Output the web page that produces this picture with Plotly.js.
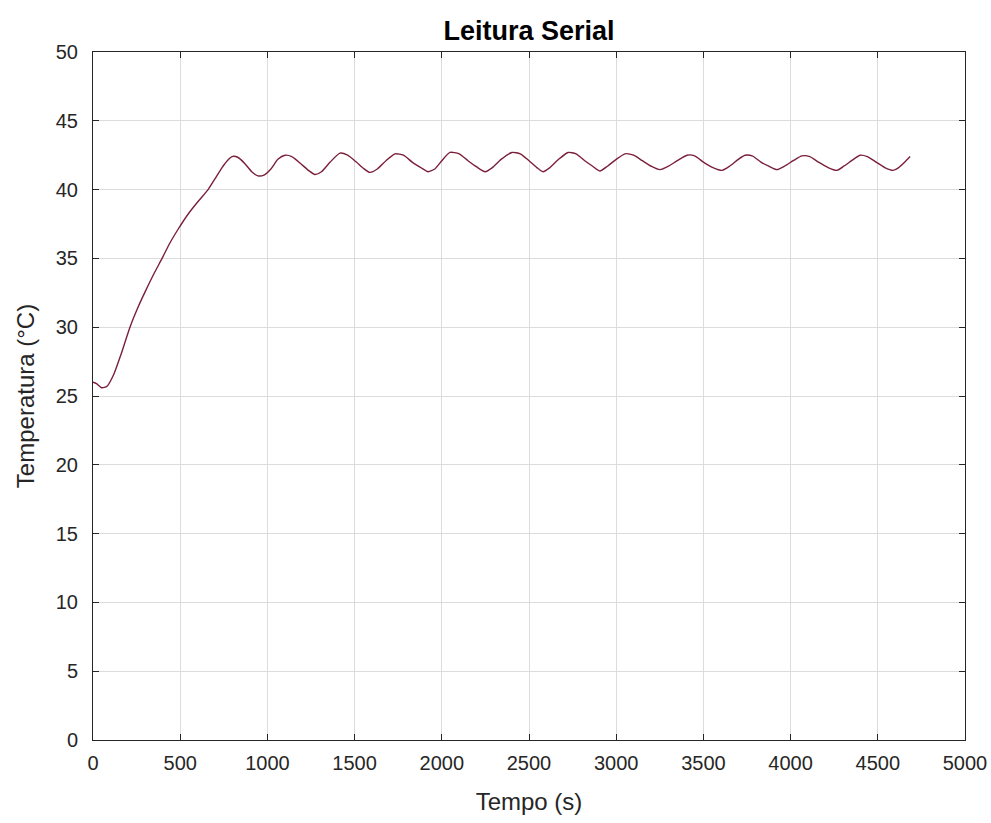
<!DOCTYPE html>
<html>
<head>
<meta charset="utf-8">
<script src="https://cdn.plot.ly/plotly-3.0.1.min.js"></script>
<style>html,body{margin:0;padding:0;background:#fff}#chart{width:991px;height:823px}</style>
</head>
<body>
<div id="chart"></div>
<script>
var tempo = [0, 20, 50, 80, 120, 160, 212, 260, 300, 350, 396, 440, 487, 550, 600, 660, 700, 740, 770, 797, 830, 870, 910, 946, 980, 1020, 1060, 1101, 1140, 1190, 1235, 1273, 1310, 1360, 1416, 1460, 1510, 1550, 1588, 1630, 1680, 1732, 1780, 1830, 1880, 1921, 1960, 2000, 2047, 2100, 2150, 2200, 2248, 2290, 2340, 2402, 2450, 2500, 2545, 2580, 2620, 2670, 2724, 2770, 2820, 2865, 2907, 2950, 3000, 3050, 3100, 3150, 3200, 3251, 3300, 3350, 3406, 3450, 3500, 3555, 3607, 3650, 3700, 3739, 3780, 3830, 3875, 3922, 3965, 4015, 4065, 4110, 4160, 4215, 4266, 4305, 4350, 4398, 4440, 4490, 4540, 4587, 4620, 4655, 4685];
var temperatura = [26.0, 25.9, 25.6, 25.7, 26.6, 28.0, 30.0, 31.5, 32.6, 33.9, 35.0, 36.1, 37.1, 38.3, 39.1, 40.0, 40.8, 41.6, 42.1, 42.4, 42.35, 41.9, 41.3, 41.0, 41.05, 41.5, 42.2, 42.5, 42.4, 41.9, 41.4, 41.1, 41.3, 42.0, 42.65, 42.5, 42.0, 41.55, 41.25, 41.5, 42.1, 42.6, 42.5, 42.0, 41.6, 41.3, 41.5, 42.1, 42.7, 42.6, 42.1, 41.65, 41.3, 41.6, 42.2, 42.7, 42.6, 42.1, 41.6, 41.3, 41.6, 42.2, 42.7, 42.6, 42.1, 41.7, 41.35, 41.7, 42.2, 42.6, 42.5, 42.1, 41.7, 41.45, 41.7, 42.1, 42.5, 42.45, 42.0, 41.6, 41.4, 41.7, 42.2, 42.5, 42.45, 42.0, 41.7, 41.45, 41.7, 42.1, 42.45, 42.4, 42.0, 41.6, 41.4, 41.7, 42.1, 42.5, 42.4, 42.0, 41.6, 41.4, 41.6, 42.0, 42.4];
var xTicks = [0, 500, 1000, 1500, 2000, 2500, 3000, 3500, 4000, 4500, 5000];
var yTicks = [0, 5, 10, 15, 20, 25, 30, 35, 40, 45, 50];

var FONT = 'Liberation Sans, Arial, sans-serif';
var axisCommon = {
  showline: true, mirror: 'ticks', linecolor: '#262626', linewidth: 1,
  ticks: 'inside', ticklen: 6, tickcolor: '#262626',
  showgrid: true, gridcolor: '#dcdcdc', gridwidth: 1,
  zeroline: false,
  tickfont: {family: FONT, size: 20, color: '#262626'}
};

var trace = {
  x: tempo, y: temperatura, type: 'scatter', mode: 'lines',
  line: {color: '#7a1f3a', width: 1.4, shape: 'spline', smoothing: 0.6},
  hoverinfo: 'x+y'
};

var layout = {
  width: 991, height: 823,
  margin: {l: 93, r: 26, t: 52, b: 83},
  paper_bgcolor: '#ffffff', plot_bgcolor: '#ffffff',
  showlegend: false,
  title: {text: '<b>Leitura Serial</b>', x: 0.5, xanchor: 'center', xref: 'paper', y: 0.963, yanchor: 'middle',
          font: {family: FONT, size: 27, color: '#000'}},
  xaxis: Object.assign({}, axisCommon, {
    range: [0, 5000], tickvals: xTicks, ticktext: xTicks.map(String),
    ticklabelstandoff: 5,
    title: {text: 'Tempo (s)', standoff: 20, font: {family: FONT, size: 24, color: '#262626'}}
  }),
  yaxis: Object.assign({}, axisCommon, {
    range: [0, 50], tickvals: yTicks, ticktext: yTicks.map(String),
    ticklabelstandoff: 10,
    title: {text: 'Temperatura (°C)', standoff: 14, font: {family: FONT, size: 24, color: '#262626'}}
  })
};

Plotly.newPlot('chart', [trace], layout, {displayModeBar: false, staticPlot: true});
</script>
</body>
</html>
